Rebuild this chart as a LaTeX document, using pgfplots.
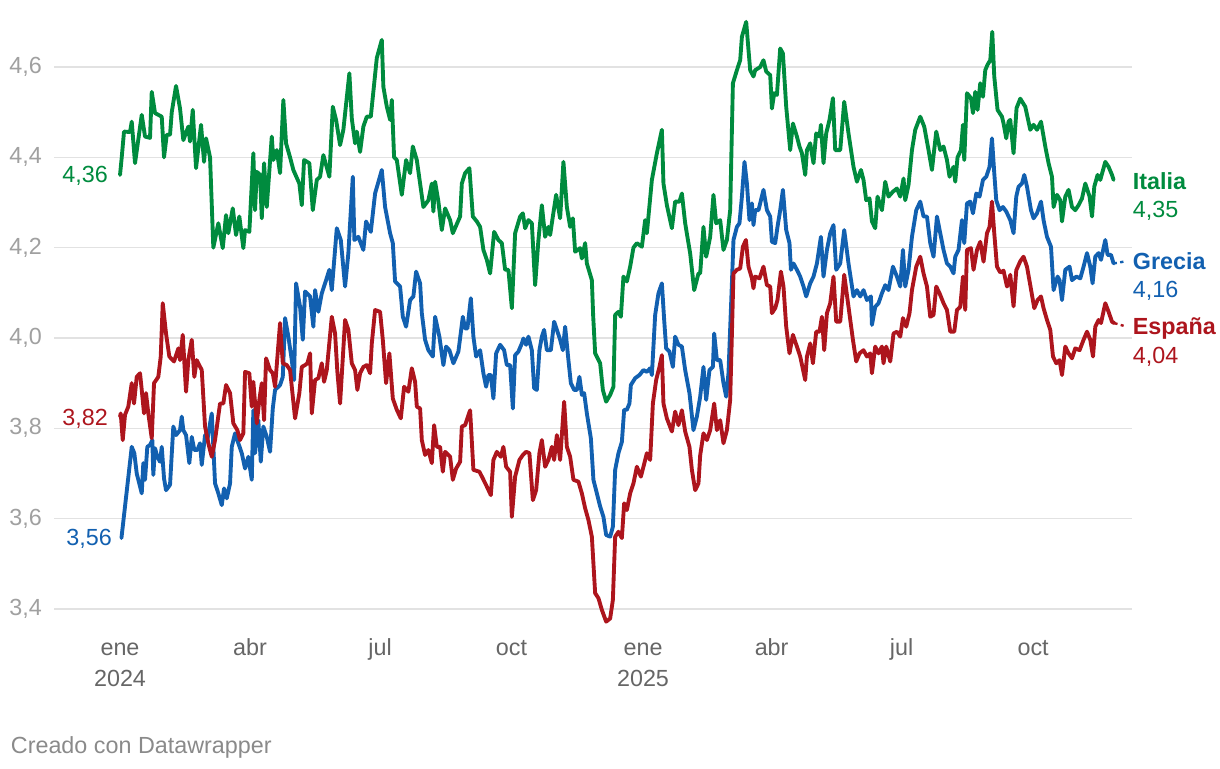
\documentclass[border=0pt]{standalone}
\usepackage{fontspec}
\setmainfont{Liberation Sans}
\usepackage{pgfplots}
\usepackage{pgfplotstable}
\pgfplotsset{compat=1.18}

\definecolor{italia}{HTML}{008B3E}
\definecolor{grecia}{HTML}{1260B0}
\definecolor{espana}{HTML}{AD151D}
\definecolor{gridc}{HTML}{E2E2E2}
\definecolor{ylab}{HTML}{A0A0A0}
\definecolor{xlab}{HTML}{666666}
\definecolor{foot}{HTML}{8A8A8A}
\newcommand\lbl{\fontsize{17.5}{21}\selectfont}

% x = days since 1 Jan 2024, y = yield
\pgfplotstableread{
d v
0 4.361
1.2 4.400
2.8 4.457
7.0 4.456
8.2 4.479
10.5 4.387
15.2 4.494
17.5 4.446
21.0 4.443
22.2 4.545
24.5 4.498
29.2 4.490
30.8 4.400
32.7 4.450
35.0 4.450
36.2 4.500
39.2 4.558
42.0 4.508
44.3 4.438
47.8 4.468
49.0 4.435
50.9 4.505
53.2 4.376
56.7 4.472
58.8 4.390
60.2 4.442
63.0 4.400
65.3 4.200
68.8 4.254
71.9 4.199
74.2 4.272
75.8 4.232
78.9 4.287
81.2 4.228
83.5 4.269
86.3 4.199
87.5 4.239
90.5 4.235
93.3 4.409
94.5 4.283
95.7 4.368
98.0 4.361
99.2 4.265
100.8 4.387
102.7 4.290
106.2 4.446
107.3 4.394
109.7 4.416
112.0 4.365
114.3 4.527
116.2 4.431
119.0 4.400
121.3 4.372
125.5 4.342
127.2 4.294
128.8 4.394
132.5 4.387
134.9 4.283
137.7 4.350
140.0 4.357
142.3 4.405
146.5 4.357
148.9 4.512
151.2 4.483
154.0 4.427
156.3 4.461
160.5 4.586
162.2 4.486
164.5 4.431
165.7 4.457
168.0 4.412
170.3 4.468
172.7 4.490
175.5 4.490
179.7 4.620
183.2 4.660
184.3 4.556
186.7 4.512
189.0 4.483
190.2 4.527
191.8 4.400
193.7 4.394
197.2 4.317
200.2 4.394
203.0 4.365
204.9 4.424
207.7 4.394
210.0 4.342
212.3 4.290
215.8 4.305
218.2 4.342
219.3 4.280
220.5 4.346
222.8 4.302
225.2 4.239
227.5 4.287
231.0 4.261
232.9 4.232
238.0 4.269
239.2 4.342
241.5 4.365
244.5 4.376
246.9 4.269
249.7 4.258
252.0 4.246
254.3 4.195
256.7 4.173
259.0 4.143
261.8 4.235
264.8 4.217
267.2 4.210
269.5 4.151
271.8 4.151
274.2 4.066
276.5 4.232
280.0 4.269
281.9 4.276
283.5 4.243
285.8 4.261
288.2 4.254
290.5 4.117
292.8 4.217
295.2 4.294
297.5 4.224
299.8 4.246
301.0 4.228
302.9 4.269
305.2 4.317
308.0 4.265
310.3 4.390
312.7 4.290
315.0 4.246
316.9 4.265
318.5 4.191
322.0 4.199
323.2 4.176
325.5 4.210
326.7 4.165
330.2 4.128
331.1 4.050
332.5 3.966
336.0 3.944
337.9 3.885
340.2 3.859
343.0 3.874
345.3 3.892
346.5 4.051
348.8 4.058
350.5 4.047
352.3 4.136
354.7 4.125
357.0 4.158
359.3 4.200
361.7 4.210
365.2 4.202
367.5 4.261
368.7 4.232
372.2 4.350
375.7 4.409
379.2 4.461
380.3 4.342
382.7 4.294
386.2 4.243
388.5 4.302
391.5 4.302
393.2 4.320
395.5 4.254
399.0 4.187
401.8 4.106
404.8 4.143
406.0 4.143
408.3 4.246
410.2 4.180
413.0 4.224
415.3 4.317
417.2 4.254
420.0 4.261
422.3 4.195
424.7 4.217
427.0 4.283
428.9 4.564
431.7 4.593
434.0 4.615
435.2 4.667
438.2 4.700
439.8 4.638
441.0 4.593
443.3 4.579
444.5 4.593
448.0 4.600
450.3 4.615
452.2 4.590
455.0 4.582
456.2 4.508
457.8 4.542
459.7 4.538
462.0 4.641
463.9 4.630
466.2 4.512
469.0 4.416
470.9 4.475
473.7 4.446
475.5 4.424
477.2 4.409
479.5 4.361
480.7 4.416
483.0 4.431
485.3 4.387
487.2 4.453
489.5 4.446
490.5 4.472
492.3 4.387
494.2 4.453
496.5 4.483
498.9 4.531
500.5 4.416
504.0 4.416
506.8 4.523
509.8 4.453
513.3 4.379
515.7 4.346
518.5 4.372
520.3 4.350
522.2 4.305
524.5 4.309
526.2 4.258
528.5 4.243
530.1 4.313
533.2 4.283
535.5 4.346
537.8 4.313
540.9 4.324
543.7 4.331
546.0 4.313
548.3 4.353
549.5 4.305
551.8 4.339
554.2 4.416
556.5 4.461
560.0 4.490
562.8 4.468
565.8 4.416
568.2 4.372
571.2 4.457
574.0 4.416
576.3 4.424
578.7 4.394
580.5 4.357
583.3 4.379
584.5 4.346
586.1 4.400
588.5 4.416
589.9 4.472
590.8 4.394
592.7 4.542
595.5 4.531
596.9 4.498
598.5 4.545
600.1 4.505
602.0 4.564
603.9 4.534
605.5 4.593
607.1 4.605
609.0 4.615
610.4 4.678
611.8 4.579
614.1 4.505
617.2 4.490
618.3 4.475
620.2 4.442
621.8 4.479
623.0 4.483
625.3 4.409
627.4 4.509
630.0 4.530
633.5 4.512
637.0 4.461
639.3 4.472
641.7 4.461
644.5 4.479
647.5 4.424
649.8 4.387
652.2 4.357
653.3 4.290
655.7 4.317
658.0 4.305
659.2 4.258
661.5 4.313
663.8 4.328
666.2 4.290
668.5 4.283
670.8 4.294
673.2 4.309
675.5 4.342
678.5 4.313
680.2 4.269
681.8 4.335
684.1 4.361
686.0 4.350
689.5 4.390
691.8 4.379
694.2 4.361
695.3 4.350
}\italia

\pgfplotstableread{
d v
1.0 3.557
8.2 3.759
10.0 3.745
11.7 3.700
15.2 3.656
16.3 3.723
17.5 3.686
19.1 3.759
21.0 3.763
22.6 3.774
23.3 3.697
24.5 3.756
26.1 3.737
28.0 3.726
29.2 3.759
30.8 3.689
32.2 3.663
35.0 3.675
37.3 3.804
39.2 3.785
42.0 3.796
43.2 3.826
44.3 3.796
46.2 3.785
48.5 3.723
50.2 3.781
52.0 3.752
54.1 3.752
56.0 3.767
57.2 3.719
59.5 3.785
61.1 3.774
64.2 3.833
66.5 3.678
68.8 3.656
71.2 3.630
72.8 3.667
74.7 3.645
77.0 3.678
78.2 3.759
80.5 3.789
82.8 3.767
85.2 3.745
87.5 3.711
89.8 3.737
92.2 3.686
93.3 3.840
94.5 3.745
96.8 3.818
98.5 3.726
100.3 3.804
102.7 3.781
105.0 3.748
106.9 3.844
108.5 3.885
112.0 3.896
113.9 3.914
115.5 4.044
117.8 4.003
120.2 3.951
121.8 3.907
123.2 4.121
126.0 4.069
127.9 3.996
129.5 4.103
133.0 4.092
135.3 4.025
136.5 4.106
138.8 4.058
141.2 4.099
143.5 4.121
146.5 4.151
148.2 4.106
151.7 4.243
154.5 4.217
157.5 4.114
159.8 4.188
162.9 4.357
164.0 4.217
166.8 4.224
170.3 4.195
172.2 4.258
175.5 4.235
178.5 4.320
183.2 4.372
185.5 4.290
189.0 4.232
190.9 4.210
192.5 4.125
196.0 4.114
197.9 4.047
200.2 4.025
203.0 4.084
205.3 4.092
207.2 4.147
210.0 4.121
211.2 4.055
213.5 3.996
215.8 3.973
218.9 3.959
220.5 4.047
223.5 4.003
226.3 3.940
228.2 3.981
230.5 3.973
233.3 3.944
236.8 3.970
239.9 4.047
241.5 4.021
243.1 4.021
245.5 4.088
247.3 4.003
249.2 3.959
252.0 3.973
254.3 3.922
256.2 3.892
257.8 3.918
259.5 3.918
261.3 3.866
263.2 3.966
266.0 3.985
268.8 3.973
270.7 3.940
273.0 3.940
274.9 3.844
276.5 3.962
278.8 3.970
281.2 3.988
282.3 3.999
284.2 3.985
285.8 4.003
288.2 3.973
289.8 3.889
291.7 3.885
293.5 3.973
295.2 4.003
296.8 4.018
298.7 3.973
301.5 3.973
303.8 4.036
305.7 4.018
308.0 3.996
309.9 3.973
311.5 4.025
313.8 3.951
315.5 3.900
317.8 3.885
319.7 3.885
321.5 3.914
323.2 3.874
324.8 3.878
326.7 3.833
329.5 3.778
331.3 3.686
333.7 3.656
336.0 3.627
338.3 3.604
340.2 3.564
343.0 3.560
344.9 3.582
346.5 3.708
348.8 3.745
351.2 3.770
352.8 3.841
354.7 3.841
356.5 3.855
357.5 3.896
360.5 3.911
363.5 3.918
366.3 3.929
368.7 3.925
371.0 3.933
372.2 3.918
374.5 4.051
376.8 4.099
379.2 4.121
380.8 4.040
382.2 3.977
384.5 3.970
386.9 3.936
388.5 4.003
390.8 3.985
393.2 3.981
395.5 3.929
398.5 3.878
401.3 3.796
403.7 3.826
406.0 3.870
408.3 3.936
410.2 3.863
412.5 3.929
414.9 3.936
415.8 4.010
417.7 3.951
420.0 3.951
422.3 3.900
424.2 3.870
425.8 3.922
428.2 4.121
429.3 4.217
431.7 4.246
433.5 4.254
435.2 4.313
437.0 4.390
438.7 4.342
440.5 4.261
442.2 4.298
443.3 4.250
444.5 4.283
446.8 4.283
450.3 4.328
452.7 4.283
455.0 4.269
456.2 4.213
458.5 4.210
460.1 4.246
462.0 4.283
463.9 4.328
466.2 4.239
468.5 4.210
469.5 4.151
471.3 4.165
473.7 4.151
476.0 4.136
478.3 4.114
480.2 4.092
483.0 4.121
485.3 4.136
487.7 4.165
490.5 4.224
492.3 4.136
494.7 4.195
497.0 4.232
499.3 4.250
501.2 4.151
504.0 4.165
506.8 4.239
509.8 4.165
513.3 4.092
515.7 4.106
518.0 4.092
520.3 4.106
522.7 4.084
525.5 4.092
526.2 4.029
528.5 4.069
530.8 4.077
533.2 4.099
535.5 4.117
537.8 4.106
540.9 4.158
543.7 4.136
546.0 4.114
547.9 4.195
549.5 4.114
551.8 4.151
554.2 4.224
557.2 4.283
560.0 4.302
562.3 4.269
564.7 4.269
567.0 4.210
569.3 4.180
571.7 4.269
574.5 4.224
576.3 4.195
578.7 4.165
581.0 4.158
583.3 4.143
584.5 4.180
586.8 4.195
589.2 4.261
590.8 4.210
592.7 4.298
595.0 4.302
596.9 4.276
599.2 4.320
601.5 4.313
603.9 4.350
606.2 4.357
608.5 4.379
610.2 4.442
611.8 4.365
613.2 4.305
615.5 4.283
617.9 4.290
620.2 4.280
623.0 4.261
625.3 4.232
627.2 4.313
628.8 4.335
631.2 4.342
632.8 4.361
634.7 4.335
637.5 4.283
639.3 4.265
641.7 4.276
644.5 4.302
646.3 4.261
648.7 4.224
651.5 4.202
653.3 4.106
656.1 4.136
657.5 4.128
659.2 4.084
661.5 4.151
664.5 4.158
666.2 4.128
669.2 4.136
672.0 4.132
674.3 4.158
676.7 4.188
679.0 4.158
680.6 4.121
682.5 4.180
684.8 4.188
686.5 4.173
689.5 4.217
691.1 4.184
693.5 4.184
695.3 4.165
}\grecia

\pgfplotstableread{
d v
0.0 3.826
0.5 3.833
1.9 3.774
3.5 3.830
5.8 3.848
8.2 3.900
9.8 3.855
11.7 3.914
14.0 3.922
15.2 3.885
16.8 3.833
18.2 3.878
19.8 3.833
22.2 3.778
23.8 3.900
26.8 3.914
28.5 3.959
29.9 4.077
32.2 4.010
34.5 3.959
37.8 3.948
40.8 3.977
42.0 3.951
43.9 4.007
46.2 3.881
47.8 3.951
50.2 3.996
52.0 3.914
53.7 3.951
57.2 3.929
59.5 3.804
61.8 3.767
64.2 3.737
66.5 3.774
70.0 3.855
72.3 3.855
74.2 3.896
77.0 3.878
79.3 3.811
82.1 3.796
84.0 3.774
86.3 3.789
87.5 3.925
90.5 3.922
92.2 3.848
93.3 3.903
95.7 3.811
97.5 3.863
99.2 3.900
100.8 3.818
102.2 3.955
105.0 3.929
106.9 3.922
108.5 3.892
112.0 4.033
113.9 3.944
116.7 3.940
119.0 3.929
122.5 3.822
125.5 3.878
127.2 3.936
129.5 3.940
131.1 3.944
133.0 3.966
134.2 3.833
136.5 3.907
138.8 3.911
141.2 3.944
142.8 3.903
144.7 3.929
148.2 4.047
150.5 4.010
152.1 3.925
154.0 3.855
157.5 4.040
159.8 4.018
162.2 3.944
164.5 3.929
166.1 3.885
168.0 3.922
170.3 3.936
172.7 3.940
175.0 3.922
176.2 3.988
178.5 4.062
182.0 4.058
183.9 3.996
186.2 3.900
188.5 3.966
190.9 3.866
193.7 3.841
196.5 3.822
198.8 3.892
201.8 3.881
204.2 3.933
206.5 3.903
207.7 3.848
210.0 3.844
211.2 3.774
213.5 3.741
215.8 3.752
218.2 3.723
219.8 3.807
221.7 3.759
224.0 3.759
225.9 3.704
227.5 3.748
231.0 3.737
232.9 3.686
235.2 3.711
238.0 3.726
239.2 3.804
241.5 3.807
245.0 3.840
247.3 3.708
251.5 3.704
253.9 3.689
256.7 3.671
259.5 3.652
261.3 3.730
263.7 3.748
266.5 3.737
268.3 3.759
270.2 3.715
273.0 3.704
274.2 3.604
276.5 3.693
279.5 3.730
281.9 3.741
284.2 3.748
286.5 3.745
288.9 3.641
291.2 3.663
293.5 3.745
295.2 3.774
297.5 3.715
299.8 3.730
302.2 3.759
303.8 3.730
305.7 3.785
308.0 3.730
310.8 3.859
312.7 3.759
315.0 3.737
317.3 3.686
320.8 3.682
323.2 3.656
325.5 3.623
327.8 3.597
330.2 3.560
332.5 3.435
334.8 3.424
337.2 3.398
340.2 3.372
343.0 3.379
344.9 3.420
346.5 3.560
348.8 3.571
351.2 3.557
352.8 3.634
354.7 3.619
357.0 3.656
359.3 3.678
361.7 3.715
364.5 3.693
366.3 3.715
368.7 3.745
371.0 3.730
372.9 3.855
375.2 3.907
377.5 3.936
379.2 3.962
380.3 3.855
382.7 3.822
386.2 3.793
388.5 3.837
390.8 3.807
393.2 3.840
395.5 3.793
398.5 3.759
400.2 3.708
402.5 3.663
404.8 3.678
406.0 3.740
408.3 3.789
410.7 3.774
413.0 3.796
415.8 3.855
417.7 3.796
420.0 3.818
422.3 3.767
424.7 3.796
427.0 3.863
429.3 4.143
431.7 4.151
434.0 4.154
435.9 4.202
438.0 4.217
439.8 4.158
442.2 4.132
443.3 4.110
444.5 4.136
447.5 4.132
450.3 4.158
452.7 4.117
455.0 4.114
456.2 4.055
458.5 4.066
460.1 4.084
462.5 4.147
464.3 4.114
466.2 4.025
468.5 3.966
470.9 4.007
473.7 3.981
476.0 3.959
479.5 3.907
480.7 3.959
483.0 3.988
484.9 3.944
487.2 4.014
489.5 4.014
491.2 4.047
492.8 3.973
494.7 4.055
497.0 4.077
499.3 4.136
501.2 4.036
504.0 4.036
506.8 4.140
509.8 4.069
512.9 3.996
515.2 3.948
517.5 3.966
520.3 3.973
522.7 3.959
525.0 3.966
526.2 3.922
528.5 3.981
530.8 3.966
533.2 3.981
534.3 3.944
536.2 3.981
539.0 3.948
541.3 4.010
543.7 4.014
546.0 4.003
547.9 4.044
550.2 4.025
552.5 4.055
554.2 4.106
557.2 4.158
560.0 4.180
562.3 4.143
564.7 4.114
567.0 4.047
569.3 4.051
571.2 4.114
573.5 4.099
576.3 4.077
578.7 4.062
581.0 4.014
583.8 4.014
585.7 4.062
588.0 4.069
589.9 4.136
591.5 4.062
592.7 4.195
595.5 4.199
597.3 4.151
599.7 4.195
602.0 4.213
604.3 4.169
606.7 4.232
608.5 4.246
610.2 4.302
611.8 4.232
613.7 4.158
616.0 4.145
618.3 4.149
620.7 4.114
621.8 4.121
623.0 4.140
625.3 4.070
627.2 4.150
630.0 4.170
632.3 4.180
634.7 4.158
637.0 4.117
639.8 4.066
642.1 4.084
644.5 4.092
646.3 4.066
648.7 4.040
651.0 4.018
652.9 3.959
655.2 3.944
657.5 3.951
659.2 3.918
661.5 3.981
663.8 3.966
666.2 3.955
668.5 3.977
671.5 3.973
674.3 3.996
676.7 4.014
679.0 3.996
680.9 3.959
682.5 4.025
684.8 4.040
686.5 4.033
689.5 4.077
691.8 4.058
694.2 4.036
695.8 4.033
}\espana

\begin{document}
\begin{tikzpicture}
\useasboundingbox (0,0) rectangle (915pt,576pt);
\begin{axis}[
  at={(40.5pt,119.25pt)}, anchor=south west,
  scale only axis, width=808.5pt, height=406.5pt,
  xmin=-46.2, xmax=708.2, ymin=3.4, ymax=4.6,
  clip=false,
  axis line style={draw=none},
  major tick length=0pt,
  ytick={3.4,3.6,3.8,4.0,4.2,4.4,4.6},
  ymajorgrids, grid style={gridc, line width=1pt},
  yticklabel style={font=\lbl, text=ylab, anchor=east, inner sep=0pt, xshift=-9pt,
    /pgf/number format/.cd, fixed, fixed zerofill, precision=1, use comma, assume math mode=true},
  xtick={0,91,182,274,366,456,547,639},
  xticklabels={ene,abr,jul,oct,ene,abr,jul,oct},
  xticklabel style={font=\lbl, text=xlab, anchor=base, inner sep=0pt, yshift=-35.2pt},
  every axis plot/.append style={line width=2.9pt, line join=round, line cap=round},
]
\addplot[italia] table[x=d, y=v] {\italia};
\addplot[grecia] table[x=d, y=v] {\grecia};
\addplot[espana] table[x=d, y=v] {\espana};
\addplot[grecia, line width=1.8pt, line cap=butt, dash pattern=on 2.5pt off 2.5pt] coordinates {(695.3,4.165) (702.3,4.169)};
\addplot[espana, line width=1.8pt, line cap=butt, dash pattern=on 2.5pt off 2.5pt] coordinates {(695.8,4.033) (702.3,4.027)};

\node[font=\lbl, text=xlab, anchor=base, inner sep=0pt, yshift=-58.3pt] at (axis cs:0,3.4) {2024};
\node[font=\lbl, text=xlab, anchor=base, inner sep=0pt, yshift=-58.3pt] at (axis cs:366,3.4) {2025};

\node[font=\lbl, text=italia, anchor=base east, inner sep=0pt] at (axis cs:-8.4,4.345) {4,36};
\node[font=\lbl, text=espana, anchor=base east, inner sep=0pt] at (axis cs:-8.4,3.807) {3,82};
\node[font=\lbl, text=grecia, anchor=base east, inner sep=0pt] at (axis cs:-5.6,3.540) {3,56};

\node[font=\lbl\bfseries, text=italia, anchor=base west, inner sep=0pt] at (axis cs:708.6,4.328) {Italia};
\node[font=\lbl, text=italia, anchor=base west, inner sep=0pt] at (axis cs:708.6,4.267) {4,35};
\node[font=\lbl\bfseries, text=grecia, anchor=base west, inner sep=0pt] at (axis cs:708.6,4.151) {Grecia};
\node[font=\lbl, text=grecia, anchor=base west, inner sep=0pt] at (axis cs:708.6,4.090) {4,16};
\node[font=\lbl\bfseries, text=espana, anchor=base west, inner sep=0pt] at (axis cs:708.6,4.007) {España};
\node[font=\lbl, text=espana, anchor=base west, inner sep=0pt] at (axis cs:708.6,3.944) {4,04};
\end{axis}
\node[font=\lbl, text=foot, anchor=base west, inner sep=0pt] at (8pt,11.25pt) {Creado con Datawrapper};
\end{tikzpicture}
\end{document}
